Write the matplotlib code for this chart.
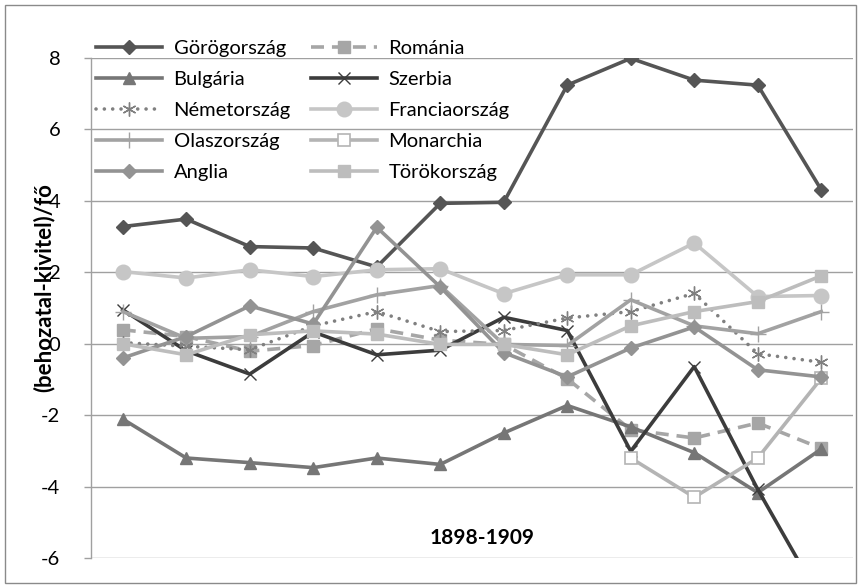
import numpy as np
import matplotlib
matplotlib.use("Agg")
import matplotlib.pyplot as plt
from matplotlib.patches import Rectangle

plt.rcParams['font.family'] = ['Lato', 'DejaVu Sans']

years = list(range(1898, 1910))
nan = np.nan

gorog = [3.28, 3.49, 2.72, 2.68, 2.15, 3.93, 3.96, 7.24, 7.99, 7.38, 7.24, 4.31]
roman = [0.39, 0.20, -0.21, -0.05, 0.42, 0.10, -0.02, -0.98, -2.41, -2.64, -2.22, -2.93]
bulgar = [-2.11, -3.20, -3.33, -3.47, -3.20, -3.38, -2.50, -1.73, -2.33, -3.05, -4.17, -2.95]
szerb = [0.95, -0.20, -0.85, 0.33, -0.31, -0.18, 0.74, 0.37, -3.01, -0.64, -4.08, -7.20]
nemet = [0.03, -0.07, -0.17, 0.50, 0.90, 0.34, 0.37, 0.72, 0.90, 1.41, -0.28, -0.52]
francia = [2.02, 1.84, 2.07, 1.88, 2.07, 2.10, 1.40, 1.93, 1.93, 2.82, 1.32, 1.35]
olasz = [0.90, 0.15, 0.20, 0.90, 1.37, 1.63, -0.02, -0.05, 1.23, 0.50, 0.28, 0.90]
monarch = [nan, nan, nan, nan, nan, nan, nan, nan, -3.20, -4.30, -3.20, -0.97]
anglia = [-0.40, 0.20, 1.06, 0.55, 3.26, 1.59, -0.25, -0.93, -0.12, 0.47, -0.73, -0.93]
torok = [0.00, -0.31, 0.25, 0.36, 0.27, -0.02, -0.02, -0.31, 0.50, 0.90, 1.18, 1.90]

names = ["Görögország", "Románia", "Bulgária", "Szerbia", "Németország",
         "Franciaország", "Olaszország", "Monarchia", "Anglia", "Törökország"]
series = [gorog, roman, bulgar, szerb, nemet, francia, olasz, monarch, anglia, torok]

yticks = [-6, -4, -2, 0, 2, 4, 6, 8]
ylabel = "(behozatal-kivitel)/fő"
xtitle = "1898-1909"

W, H = 859, 588
fig = plt.figure(figsize=(W / 100, H / 100), dpi=100)
ax = fig.add_axes([91 / W, 1 - 558 / H, (853 - 91) / W, (558 - 58) / H])

x = np.arange(len(years))
lw = 2.6
styles = [
    dict(color='#555555', marker='D', ms=7),
    dict(color='#a6a6a6', marker='s', ms=8.5, ls=(0, (3.6, 2.2))),
    dict(color='#767676', marker='^', ms=8.5),
    dict(color='#3c3c3c', marker='x', ms=9, mew=1.0),
    dict(color='#808080', marker=(6, 2, 0), ms=10, mew=1.0, ls=(0, (0.01, 2.3)), dash_capstyle='round'),
    dict(color='#c6c6c6', marker='o', ms=10.5),
    dict(color='#a2a2a2', marker='+', ms=12, mew=1.0),
    dict(color='#b4b4b4', marker='s', ms=9, mfc='white', mew=1.2),
    dict(color='#939393', marker='D', ms=7),
    dict(color='#bdbdbd', marker='s', ms=9),
]

handles = []
for i, (nm, s, st) in enumerate(zip(names, series, styles)):
    st = dict(st)
    ls = st.pop('ls', '-')
    h, = ax.plot(x, s, label=nm, lw=lw, ls=ls, zorder=3 + i, **st)
    handles.append(h)

ax.set_xlim(-0.5, 11.5)
ax.set_ylim(-6, 8)
ax.set_yticks(yticks)
ax.set_yticklabels([str(t) for t in yticks])
ax.set_xticks([])
ax.grid(axis='y', color='#a0a0a0', lw=1.0, zorder=0)
ax.set_axisbelow(True)
for sp in ['top', 'right', 'bottom']:
    ax.spines[sp].set_visible(False)
ax.spines['left'].set_color('#a0a0a0')
ax.spines['left'].set_linewidth(1.0)
ax.tick_params(axis='y', length=5, width=1.0, color='#a0a0a0', pad=17,
               labelsize=14.5, labelcolor='#000000')

order = [0, 2, 4, 6, 8, 1, 3, 5, 7, 9]
leg = fig.legend([handles[k] for k in order], [names[k] for k in order],
                 ncol=2, loc='upper left', bbox_to_anchor=(96 / W, 1 - 40 / H),
                 frameon=False, fontsize=14.5, handlelength=3.3, handletextpad=0.55,
                 columnspacing=1.0, labelspacing=0.69, borderaxespad=0, borderpad=0)

ax.text(0.513, 0.04, xtitle, transform=ax.transAxes, ha='center', va='center',
        fontsize=15, fontweight='bold', color='#000000', zorder=20)
fig.text(44 / W, 1 - 288 / H, ylabel, rotation=90, ha='center', va='center',
         fontsize=16, fontweight='bold', color='#000000')

fig.patches.append(Rectangle((5 / W, 1 - 583 / H), (856 - 5) / W, (583 - 5) / H,
                             transform=fig.transFigure, fill=False,
                             edgecolor='#8a8a8a', lw=1.0))

fig.savefig('out.png', dpi=100)
